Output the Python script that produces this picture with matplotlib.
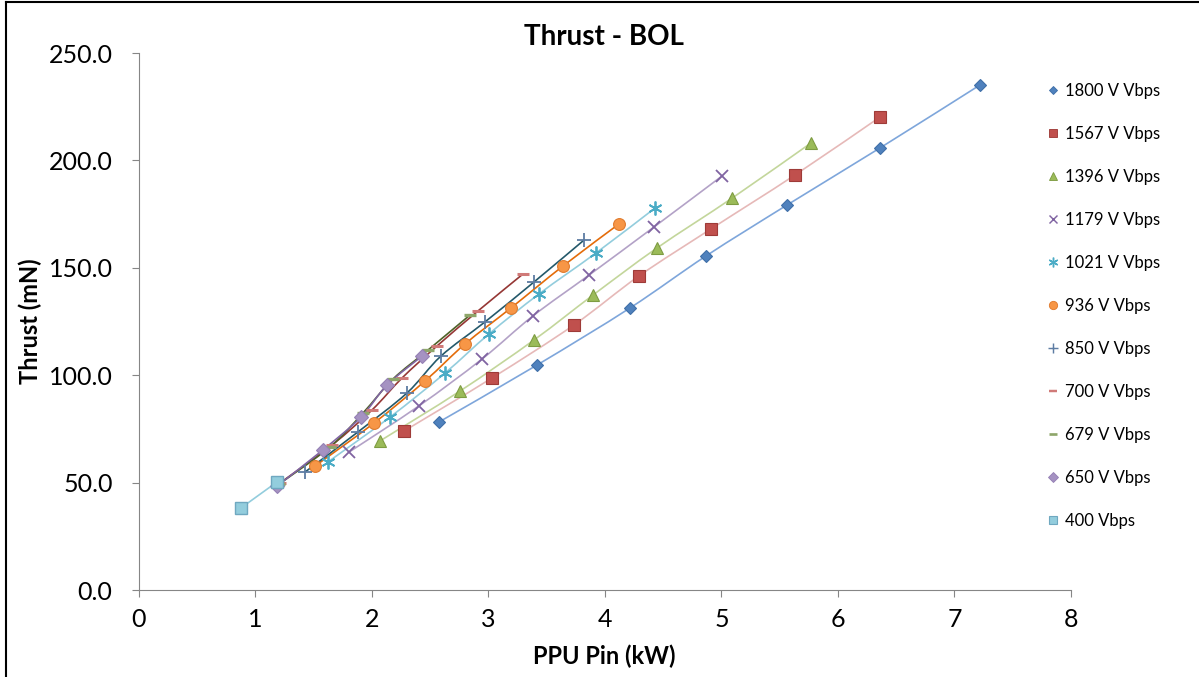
import matplotlib
matplotlib.use('Agg')
import matplotlib.pyplot as plt
from matplotlib.path import Path
from matplotlib.patches import PathPatch
from matplotlib.lines import Line2D

plt.rcParams['font.family'] = ['Lato', 'DejaVu Sans']

# PPU input power (kW) and thrust (mN) per discharge voltage
x1800 = [2.575, 3.416, 4.215, 4.867, 5.562, 6.361, 7.219]
y1800 = [78.2, 104.7, 131.3, 155.5, 179.2, 205.8, 235.1]
x1567 = [2.275, 3.030, 3.734, 4.292, 4.910, 5.631, 6.361]
y1567 = [74.0, 98.7, 123.4, 146.2, 168.1, 193.2, 220.2]
x1396 = [2.069, 2.755, 3.391, 3.897, 4.446, 5.093, 5.768]
y1396 = [69.4, 92.6, 116.4, 137.3, 159.2, 182.5, 208.1]
x1179 = [1.803, 2.403, 2.944, 3.382, 3.863, 4.421, 5.004]
y1179 = [64.2, 85.7, 107.5, 127.6, 146.6, 169.0, 192.7]
x1021 = [1.622, 2.155, 2.627, 3.004, 3.433, 3.923, 4.429]
y1021 = [59.6, 80.5, 101.0, 119.2, 137.8, 156.9, 177.8]
x936 = [1.511, 2.017, 2.455, 2.798, 3.193, 3.639, 4.120]
y936 = [57.7, 77.7, 97.3, 114.5, 131.3, 150.8, 170.4]
x850 = [1.425, 1.880, 2.300, 2.592, 2.970, 3.391, 3.820]
y850 = [54.9, 73.6, 91.7, 108.9, 124.8, 143.4, 162.9]
x700 = [1.210, 1.657, 2.000, 2.258, 2.558, 2.910, 3.296]
y700 = [49.8, 67.5, 83.8, 98.7, 113.6, 129.9, 147.1]
x679 = [1.202, 1.640, 1.923, 2.180, 2.481, 2.841]
y679 = [49.3, 66.6, 82.4, 98.2, 111.7, 128.0]
x650 = [1.185, 1.579, 1.906, 2.129, 2.429]
y650 = [48.4, 65.2, 80.5, 95.4, 108.9]
x400 = [0.876, 1.185]
y400 = [38.2, 50.3]

labels = ['1800 V Vbps', '1567 V Vbps', '1396 V Vbps', '1179 V Vbps',
          '1021 V Vbps', '936 V Vbps', '850 V Vbps', '700 V Vbps',
          '679 V Vbps', '650 V Vbps', '400 Vbps']
xs = [x1800, x1567, x1396, x1179, x1021, x936, x850, x700, x679, x650, x400]
ys = [y1800, y1567, y1396, y1179, y1021, y936, y850, y700, y679, y650, y400]

# (line colour, marker, marker size, face colour, edge colour, edge width)
styles = [
    ('#7EA6DB', 'D', 6.5, '#4F81BD', '#3F6FA8', 0.8),
    ('#E6B9B8', 's', 8, '#C0504D', '#9E3B38', 0.8),
    ('#C3D69B', '^', 8.5, '#9BBB59', '#7E9C42', 0.8),
    ('#B3A2C7', 'x', 9, '#8064A2', '#8064A2', 1.3),
    ('#93CDDD', (6, 2, 0), 10, '#4BACC6', '#4BACC6', 1.3),
    ('#E46C0A', 'o', 8.5, '#F79646', '#E07B2E', 0.8),
    ('#24596B', '+', 10, '#5D7CA3', '#5D7CA3', 1.3),
    ('#953735', '_', 8, '#D07A78', '#D07A78', 2.2),
    ('#4F6228', '_', 9, '#8EA66A', '#8EA66A', 2.4),
    ('#8064A2', 'D', 7, '#A592C2', '#9580B5', 0.8),
    ('#93CDDD', 's', 9, '#93CDDD', '#6FA8C0', 1.0),
]


def smooth_path(x, y):
    # Excel style smoothed line: Catmull-Rom drawn as cubic Bezier segments
    pts = list(zip(x, y))
    n = len(pts)
    verts = [pts[0]]
    codes = [Path.MOVETO]
    for i in range(n - 1):
        p0 = pts[i - 1] if i > 0 else pts[i]
        p1 = pts[i]
        p2 = pts[i + 1]
        p3 = pts[i + 2] if i + 2 < n else pts[i + 1]
        c1 = (p1[0] + (p2[0] - p0[0]) / 6, p1[1] + (p2[1] - p0[1]) / 6)
        c2 = (p2[0] - (p3[0] - p1[0]) / 6, p2[1] - (p3[1] - p1[1]) / 6)
        verts += [c1, c2, p2]
        codes += [Path.CURVE4] * 3
    return Path(verts, codes)


fig = plt.figure(figsize=(11.99, 6.77), dpi=100)
ax = fig.add_axes([0.1159, 0.1285, 0.8932 - 0.1159, 0.9217 - 0.1285])

handles = []
for i in range(len(labels)):
    lc, mk, ms, fc, ec, mew = styles[i]
    ax.add_patch(PathPatch(smooth_path(xs[i], ys[i]), facecolor='none',
                           edgecolor=lc, lw=1.2, zorder=2 + i * 0.1))
    ax.plot(xs[i], ys[i], linestyle='none', marker=mk, ms=ms,
            markerfacecolor=fc, markeredgecolor=ec, markeredgewidth=mew,
            zorder=3 + i * 0.1)
    handles.append(Line2D([], [], linestyle='none', marker=mk, ms=ms * 0.7,
                          markerfacecolor=fc, markeredgecolor=ec,
                          markeredgewidth=mew * 0.8))

ax.set_xlim(0, 8)
ax.set_ylim(0, 250)
ax.set_xticks(range(0, 9))
ax.set_yticks([0, 50, 100, 150, 200, 250])
ax.set_yticklabels(['%.1f' % v for v in [0, 50, 100, 150, 200, 250]])
ax.tick_params(labelsize=18, length=5, color='#868686')
ax.tick_params(axis='y', pad=14)
ax.tick_params(axis='x', pad=8)
for s in ['top', 'right']:
    ax.spines[s].set_visible(False)
for s in ['left', 'bottom']:
    ax.spines[s].set_color('#868686')

fig.text(0.504, 0.945, 'Thrust - BOL', ha='center', va='center',
         fontsize=20, fontweight='bold')
fig.text(0.504, 0.030, 'PPU Pin (kW)', ha='center', va='center',
         fontsize=17, fontweight='bold')
fig.text(0.025, 0.525, 'Thrust (mN)', ha='center', va='center',
         fontsize=17, fontweight='bold', rotation=90)

fig.legend(handles, labels, loc='upper left', bbox_to_anchor=(0.860, 0.9),
           frameon=False, fontsize=12, labelspacing=1.62,
           handlelength=0.8, handletextpad=0.35)

# chart border
fig.add_artist(Line2D([0.005, 0.005], [0, 0.997], color='black', lw=1.5))
fig.add_artist(Line2D([0.005, 1], [0.997, 0.997], color='black', lw=1.5))

plt.savefig('out.png', dpi=100)
